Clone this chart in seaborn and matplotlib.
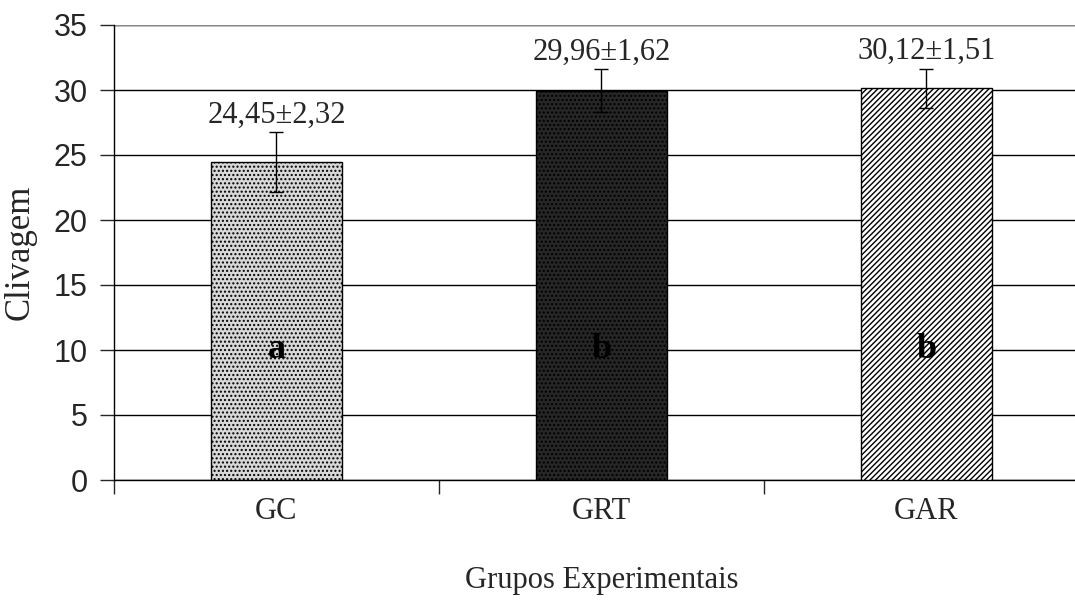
import numpy as np
import pandas as pd
import matplotlib
matplotlib.use("Agg")
import matplotlib.pyplot as plt
import seaborn as sns

# dados do gráfico
grupos = ["GC", "GRT", "GAR"]
media = [24.45, 29.96, 30.12]
desvio = [2.32, 1.62, 1.51]
rotulos = ["24,45±2,32", "29,96±1,62", "30,12±1,51"]
letras = ["a", "b", "b"]

df = pd.DataFrame({"Grupo": grupos, "Clivagem": media})

sns.set_style("white")
plt.rcParams["hatch.linewidth"] = 1.0

fig = plt.figure(figsize=(10.75, 6.01), dpi=100)
ax = fig.add_axes([114 / 1075, 121 / 601, 975 / 1075, 455 / 601])

sns.barplot(data=df, x="Grupo", y="Clivagem", ax=ax, width=0.405,
            color="white", edgecolor="black", linewidth=1.0, errorbar=None, zorder=3)

# preenchimentos (pontilhado claro, pontilhado escuro, listrado)
faces = ["#d8d8d8", "#262626", "white"]
hatches = ["....", "....", "//////"]
hcolors = ["#8c8c8c", "#b4b4b4", "#5a5a5a"]
for bar, fc, h, hc in zip(ax.patches, faces, hatches, hcolors):
    bar.set_facecolor(fc)
    bar.set_hatch(h)
    bar._hatch_color = matplotlib.colors.to_rgba(hc)
    bar.set_edgecolor("black")

x = np.arange(len(grupos))
ax.errorbar(x, media, yerr=desvio, fmt="none", ecolor="black", elinewidth=1.0,
            capsize=5, capthick=1.0, zorder=4)

serif = ["Liberation Serif", "DejaVu Serif"]
for i in range(len(grupos)):
    ax.text(x[i], media[i] + desvio[i] + 0.2, rotulos[i], ha="center", va="bottom",
            fontsize=22, family=serif)
    ax.text(x[i], 10, letras[i], ha="center", va="center", fontsize=26,
            fontweight="bold", family=serif, color="black", zorder=5)

ax.set_ylim(0, 35)
ax.set_xlim(-0.5, 2.5)
ax.set_yticks(range(0, 36, 5))
ax.yaxis.grid(True, color="black", linewidth=1.0, zorder=0)
ax.set_axisbelow(True)
ax.tick_params(axis="y", labelsize=22, length=10, width=1, direction="out", left=True, pad=9)
for lab in ax.get_yticklabels():
    lab.set_family(["Liberation Sans", "DejaVu Sans"])

# marcas do eixo x nas divisões entre categorias
ax.set_xticks([-0.5, 0.5, 1.5, 2.5])
ax.set_xticklabels([])
ax.set_xticks(x, minor=True)
ax.set_xticklabels(grupos, minor=True, fontsize=22, family=serif)
ax.tick_params(axis="x", which="major", length=10, width=1, direction="out", bottom=True)
ax.tick_params(axis="x", which="minor", length=0, pad=12)

ax.set_xlabel("Grupos Experimentais", fontsize=22, family=serif, labelpad=29)
ax.set_ylabel("Clivagem", fontsize=25, family=serif)
ax.yaxis.set_label_coords(-77 / 975, 0.5)

for s in ["top", "right"]:
    ax.spines[s].set_visible(False)
for s in ["left", "bottom"]:
    ax.spines[s].set_color("black")
    ax.spines[s].set_linewidth(1.0)
ax.axhline(35, color="#888888", linewidth=1.0, zorder=1)

fig.savefig("out.png", dpi=100)
